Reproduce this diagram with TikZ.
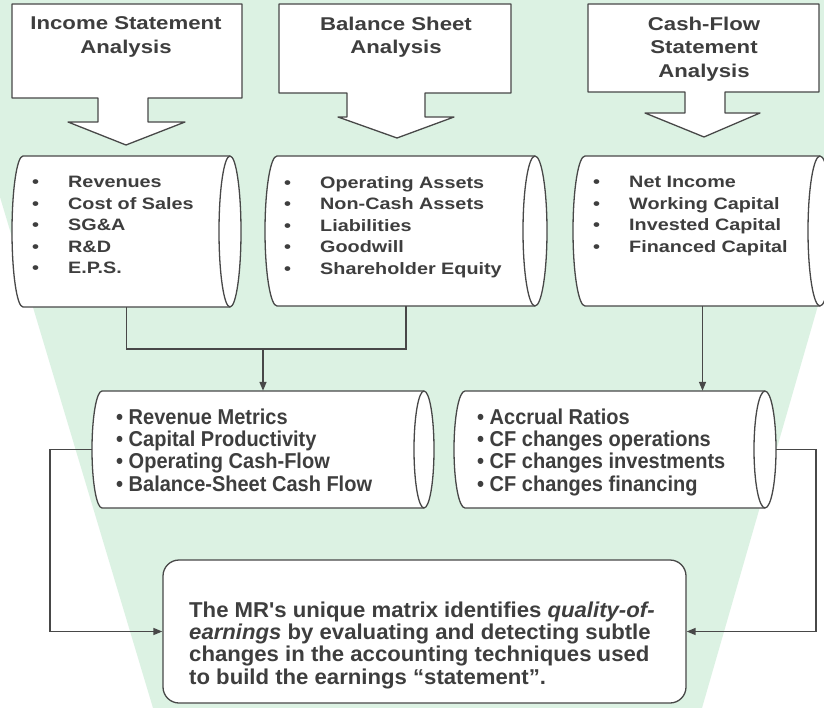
\documentclass[tikz,border=0pt]{standalone}
\usepackage{fontspec}
\setmainfont{Liberation Sans}
\newfontfamily\widefont[FakeStretch=1.2]{Liberation Sans}
\newfontfamily\midfont[FakeStretch=0.93]{Liberation Sans}
\newfontfamily\botfont[FakeStretch=1.03]{Liberation Sans}
\usetikzlibrary{arrows.meta}
\definecolor{bg}{RGB}{220,242,227}
\definecolor{ln}{RGB}{72,72,72}
\definecolor{tx}{RGB}{62,62,62}
\newcommand{\bl}{\makebox[36pt][l]{\textbullet}}
\newcommand{\drawcyl}[6]{%
  \pgfmathsetmacro{\ym}{(#4+#5)/2}%
  \pgfmathsetmacro{\ry}{(#5-#4)/2}%
  \pgfmathsetmacro{\kx}{0.5523*#6}%
  \pgfmathsetmacro{\ky}{0.5523*\ry}%
  \pgfmathsetmacro{\cw}{#3-#2+2*#6}%
  \pgfmathsetmacro{\ch}{#5-#4}%
  \pgfmathsetmacro{\cx}{(#2+#3)/2}%
  \draw[shapeline] (#2,#4) -- (#3,#4)
    .. controls (#3+\kx,#4) and (#3+#6,\ym-\ky) .. (#3+#6,\ym)
    .. controls (#3+#6,\ym+\ky) and (#3+\kx,#5) .. (#3,#5)
    -- (#2,#5)
    .. controls (#2-\kx,#5) and (#2-#6,\ym+\ky) .. (#2-#6,\ym)
    .. controls (#2-#6,\ym-\ky) and (#2-\kx,#4) .. (#2,#4) -- cycle;
  \draw[shapeline,fill=none] (#3,#4)
    .. controls (#3-\kx,#4) and (#3-#6,\ym-\ky) .. (#3-#6,\ym)
    .. controls (#3-#6,\ym+\ky) and (#3-\kx,#5) .. (#3,#5);
  \node[inner sep=0pt, draw=none, minimum width=\cw pt, minimum height=\ch pt] (#1) at (\cx,\ym) {};
}
\tikzset{
  shapeline/.style={draw=ln, fill=white, line width=1.3pt, line join=round},
  conn/.style={draw=ln, line width=1.5pt},
  tip/.style={-{Triangle[length=9pt,width=7pt]}},
  titletext/.style={inner sep=0pt, align=center, text=tx, font=\widefont\bfseries\fontsize{18.5}{23.5}\selectfont},
  toplist/.style={inner sep=0pt, align=left, text=tx, font=\widefont\bfseries\fontsize{16.5}{21.5}\selectfont},
  midlist/.style={inner sep=0pt, align=left, text=tx, font=\midfont\bfseries\fontsize{21.5}{22.3}\selectfont},
  bottext/.style={inner sep=0pt, align=left, text=tx, font=\botfont\bfseries\fontsize{21.5}{22.3}\selectfont},
}
\begin{document}
\begin{tikzpicture}[x=1pt,y=-1pt]
\useasboundingbox (0,0) rectangle (824,708);
\fill[white] (0,0) rectangle (824,708);
\begin{scope}
  \clip (0,0) rectangle (824,708);
  \fill[bg] (-59,0) -- (906,0) -- (702,708) -- (153,708) -- cycle;
\end{scope}

% top callout boxes
\draw[shapeline] (12,4) -- (242,4) -- (242,98) -- (148,98) -- (148,122) -- (185,122) -- (126,145) -- (68,122) -- (98,122) -- (98,98) -- (12,98) -- cycle;
\node[titletext, anchor=north] (t1) at (126,16.5) {Income Statement\\Analysis};

\draw[shapeline] (279,4) -- (511,4) -- (511,93) -- (425,93) -- (425,117) -- (454,117) -- (397,138) -- (338,117) -- (347,117) -- (347,93) -- (279,93) -- cycle;
\node[titletext, anchor=north] (t2) at (396,16.5) {Balance Sheet\\Analysis};

\draw[shapeline] (588,4) -- (819,4) -- (819,92) -- (725,92) -- (725,113) -- (760,113) -- (704,137) -- (645,113) -- (685,113) -- (685,92) -- (588,92) -- cycle;
\node[titletext, anchor=north] (t3) at (704,16.5) {Cash-Flow\\Statement\\Analysis};

% top cylinders
\drawcyl{c1}{23}{230}{156}{307}{11}
\node[toplist, anchor=north west] (l1) at (32,176) {\bl Revenues\\\bl Cost of Sales\\\bl SG\&A\\\bl R\&D\\\bl E.P.S.};
\drawcyl{c2}{277}{535}{156}{306}{12}
\node[toplist, anchor=north west] (l2) at (284,176) {\bl Operating Assets\\\bl Non-Cash Assets\\\bl Liabilities\\\bl Goodwill\\\bl Shareholder Equity};
\drawcyl{c3}{585}{820}{156}{306}{12}
\node[toplist, anchor=north west] (l3) at (593,176) {\bl Net Income\\\bl Working Capital\\\bl Invested Capital\\\bl Financed Capital};

% middle cylinders
\drawcyl{m1}{102}{424}{391}{508}{10}
\node[midlist, anchor=north west] (l4) at (116,408.5) {\textbullet\ Revenue Metrics\\\textbullet\ Capital Productivity\\\textbullet\ Operating Cash-Flow\\\textbullet\ Balance-Sheet Cash Flow};
\drawcyl{m2}{465}{765}{391}{508}{11}
\node[midlist, anchor=north west] (l5) at (477,408.5) {\textbullet\ Accrual Ratios\\\textbullet\ CF changes operations\\\textbullet\ CF changes investments\\\textbullet\ CF changes financing};

% bottom box
\node[draw=ln, fill=white, line width=1.3pt, rounded corners=16pt, minimum width=523pt, minimum height=143pt, inner sep=0pt] (mr) at (424.5,631.5) {};
\node[bottext, anchor=north west] (mrt) at (189,601.5) {The MR's unique matrix identifies \textit{quality-of-}\\\textit{earnings} by evaluating and detecting subtle\\changes in the accounting techniques used\\to build the earnings “statement”.};

% connectors
\coordinate (jy) at (0,349);
\coordinate (j) at (m1.north |- jy);
\draw[conn] (c1.south) -- (c1.south |- jy) -| (c2.south);
\draw[conn,tip] (j) -- (m1.north);
\draw[conn,tip] (c3.south) -- (c3.south |- m2.north);
\coordinate (lc) at (50,0);
\coordinate (rc) at (816,0);
\draw[conn,tip] (m1.west) -- (m1.west -| lc) |- (mr.west);
\draw[conn,tip] (m2.east) -- (m2.east -| rc) |- (mr.east);
\end{tikzpicture}
\end{document}
